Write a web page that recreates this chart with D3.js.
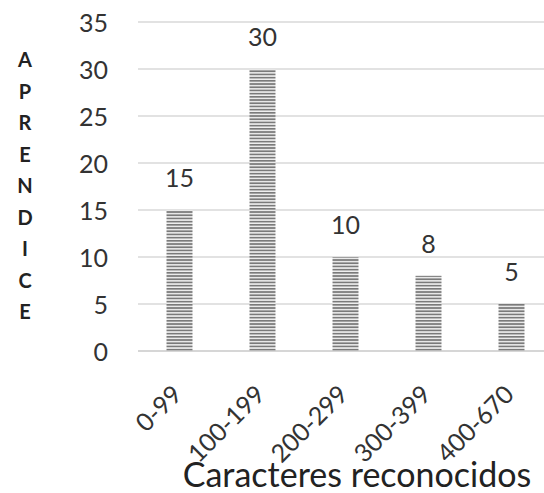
<!DOCTYPE html>
<html>
<head>
<meta charset="utf-8">
<script src="https://cdn.jsdelivr.net/npm/d3@7"></script>
<style>
  html, body { margin: 0; padding: 0; background: #fff; }
  svg { display: block; }
</style>
</head>
<body>
<svg id="chart" width="544" height="493"></svg>
<script>
// Data
const categories = ["0-99", "100-199", "200-299", "300-399", "400-670"];
const values = [15, 30, 10, 8, 5];
const yTicks = [0, 5, 10, 15, 20, 25, 30, 35];
const yTitle = "APRENDICE";
const xTitle = "Caracteres reconocidos";

const W = 544, H = 493;
const svg = d3.select("#chart");
const font = "Lato, 'Open Sans', sans-serif";
const textColor = "#333";

// Horizontal-line hatch fill for the bars
const defs = svg.append("defs");
const pat = defs.append("pattern")
  .attr("id", "hatch")
  .attr("patternUnits", "userSpaceOnUse")
  .attr("width", 8).attr("height", 3.2);
pat.append("rect").attr("width", 8).attr("height", 3.2).attr("fill", "#f0f0f0");
pat.append("rect").attr("y", 0).attr("width", 8).attr("height", 1.7).attr("fill", "#7a7a7a");

const plotLeft = 138, plotRight = 553;
const y = d3.scaleLinear().domain([0, 35]).range([351, 22]);
const x = d3.scaleBand().domain(categories).range([plotLeft, plotRight]).paddingInner(0.687).paddingOuter(0.3435);

// Gridlines
svg.append("g")
  .selectAll("line")
  .data(yTicks)
  .join("line")
  .attr("x1", plotLeft).attr("x2", W)
  .attr("y1", d => y(d)).attr("y2", d => y(d))
  .attr("stroke", d => d === 0 ? "#c8c8c8" : "#d9d9d9")
  .attr("stroke-width", 1.5);

// Y axis tick labels
const yAxis = d3.axisLeft(y).tickValues(yTicks).tickSize(0).tickPadding(0);
const gy = svg.append("g").attr("transform", "translate(108,0)").call(yAxis);
gy.select(".domain").remove();
gy.selectAll("text")
  .attr("font-family", font)
  .attr("font-size", 25)
  .attr("fill", textColor)
  .attr("dy", "0.36em");

// Bars
svg.append("g")
  .selectAll("rect")
  .data(values)
  .join("rect")
  .attr("x", (d, i) => x(categories[i]))
  .attr("y", d => y(d))
  .attr("width", x.bandwidth())
  .attr("height", d => y(0) - y(d))
  .attr("fill", "url(#hatch)");

// Value labels
svg.append("g")
  .selectAll("text")
  .data(values)
  .join("text")
  .attr("x", (d, i) => x(categories[i]) + x.bandwidth() / 2)
  .attr("y", d => y(d) - 23)
  .attr("text-anchor", "middle")
  .attr("font-family", font)
  .attr("font-size", 25)
  .attr("fill", textColor)
  .text(d => d);

// X axis category labels, rotated
const xAxis = d3.axisBottom(x).tickSize(0).tickPadding(0);
const gx = svg.append("g").attr("transform", "translate(0,351)").call(xAxis);
gx.select(".domain").remove();
gx.selectAll(".tick text")
  .attr("font-family", font)
  .attr("font-size", 25)
  .attr("fill", textColor)
  .attr("text-anchor", "end")
  .attr("y", 0).attr("dy", 0)
  .attr("transform", "translate(4,45) rotate(-45)");

// Vertical stacked y-axis title
svg.append("g")
  .selectAll("text")
  .data(yTitle.split(""))
  .join("text")
  .attr("x", 25)
  .attr("y", (d, i) => 67 + i * 31.5)
  .attr("text-anchor", "middle")
  .attr("font-family", font)
  .attr("font-weight", "bold")
  .attr("font-size", 20)
  .attr("fill", "#222")
  .text(d => d);

// X axis title
svg.append("text")
  .attr("x", 357)
  .attr("y", 487)
  .attr("text-anchor", "middle")
  .attr("font-family", font)
  .attr("font-size", 34)
  .attr("fill", "#222")
  .text(xTitle);
</script>
</body>
</html>
